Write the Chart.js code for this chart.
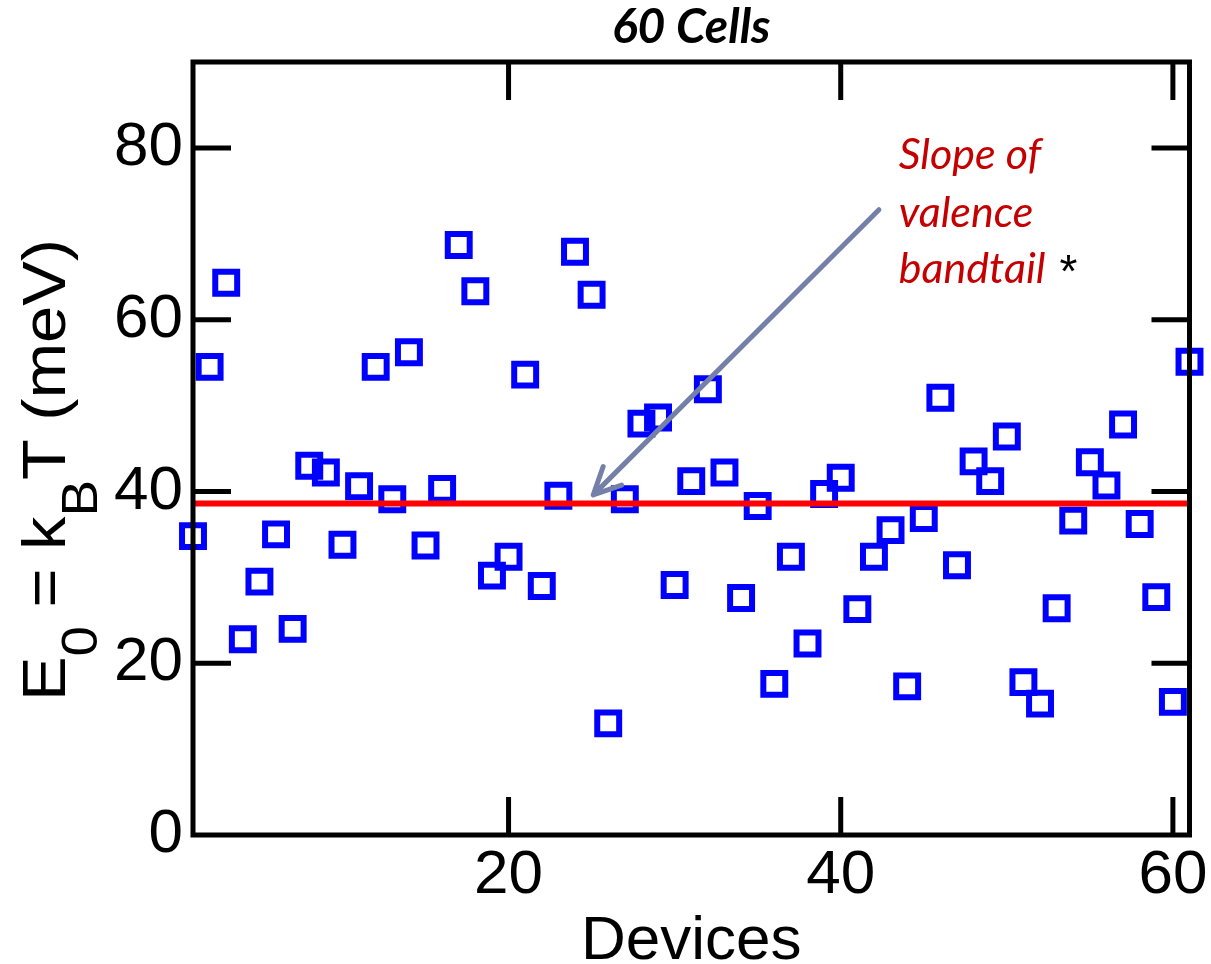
<!DOCTYPE html>
<html>
<head>
<meta charset="utf-8">
<script src="https://cdn.jsdelivr.net/npm/chart.js@4.4.0/dist/chart.umd.min.js"></script>
<style>
  body { margin: 0; background: #fff; }
  #wrap { width: 1211px; height: 964px; }
</style>
</head>
<body>
<div id="wrap"><canvas id="e0Chart"></canvas></div>
<script>
// device number and E0 (meV)
const devices = [1,2,3,4,5,6,7,8,9,10,11,12,13,14,15,16,17,18,19,20,
  21,22,23,24,25,26,27,28,29,30,31,32,33,34,35,36,37,38,39,40,
  41,42,43,44,45,46,47,48,49,50,51,52,53,54,55,56,57,58,59,60,61];
const e0Values = [34.8,54.5,64.3,22.8,29.5,35.0,24.0,43.0,42.2,33.8,
  40.6,54.5,39.1,56.2,33.7,40.3,68.7,63.3,30.2,32.4,
  53.6,29.0,39.5,67.9,62.9,13.0,39.1,47.9,48.6,29.1,
  41.2,51.9,42.2,27.6,38.3,17.6,32.4,22.3,39.7,41.6,
  26.3,32.4,35.5,17.3,36.9,50.9,31.4,43.5,41.2,46.4,
  17.8,15.3,26.4,36.6,43.4,40.7,47.8,36.2,27.7,15.5,55.1];
const bandtailSlope = 38.6;
const xTicks = [20, 40, 60];
const yTicks = [0, 20, 40, 60, 80];
const noteLines = ['Slope of', 'valence', 'bandtail'];

const points = devices.map((d, i) => ({x: d, y: e0Values[i]}));

const framePlugin = {
  id: 'frame',
  afterDatasetsDraw(chart) {
    const {ctx, chartArea: a, scales: {x, y}} = chart;
    ctx.save();
    ctx.strokeStyle = '#000';
    ctx.lineWidth = 5;
    ctx.lineCap = 'butt';
    ctx.strokeRect(a.left, a.top, a.right - a.left, a.bottom - a.top);
    const tl = 38;
    ctx.beginPath();
    xTicks.forEach(v => {
      const px = x.getPixelForValue(v);
      ctx.moveTo(px, a.bottom); ctx.lineTo(px, a.bottom - tl);
      ctx.moveTo(px, a.top); ctx.lineTo(px, a.top + tl);
    });
    yTicks.forEach(v => {
      if (v === 0) return;
      const py = y.getPixelForValue(v);
      ctx.moveTo(a.left, py); ctx.lineTo(a.left + tl, py);
      ctx.moveTo(a.right, py); ctx.lineTo(a.right - tl, py);
    });
    ctx.stroke();
    ctx.restore();
  },
  afterDraw(chart) {
    const {ctx, chartArea: a, scales: {x, y}} = chart;
    ctx.save();
    // title
    ctx.fillStyle = '#000';
    ctx.font = 'italic bold 48px Lato';
    ctx.textAlign = 'center';
    ctx.textBaseline = 'alphabetic';
    ctx.fillText('60 Cells', (a.left + a.right) / 2, 43);

    // x title
    ctx.font = '62px "Liberation Sans", Arial, sans-serif';
    ctx.fillText('Devices', (a.left + a.right) / 2, 959);

    // y title with subscripts
    const parts = [
      ['E', false], ['0', true], [' = k', false], ['B', true], ['T (meV)', false]
    ];
    const mainF = '61px "Liberation Sans", Arial, sans-serif';
    const subF = '50px "Liberation Sans", Arial, sans-serif';
    let total = 0;
    parts.forEach(p => { ctx.font = p[1] ? subF : mainF; total += ctx.measureText(p[0]).width; });
    const stretch = 462 / total;
    ctx.translate(65, 470);
    ctx.rotate(-Math.PI / 2);
    ctx.scale(stretch, 1);
    ctx.textAlign = 'left';
    let cx = -total / 2;
    parts.forEach(p => {
      ctx.font = p[1] ? subF : mainF;
      ctx.fillText(p[0], cx, p[1] ? 32 : 0);
      cx += ctx.measureText(p[0]).width;
    });
    ctx.setTransform(1, 0, 0, 1, 0, 0);

    // annotation text
    ctx.textAlign = 'left';
    ctx.fillStyle = '#c40000';
    ctx.font = 'italic 43px Lato';
    const tx = x.getPixelForValue(43.5);
    const baseVals = [77.6, 70.8, 64.3];
    noteLines.forEach((t, i) => ctx.fillText(t, tx, y.getPixelForValue(baseVals[i])));
    const w = ctx.measureText(noteLines[2]).width;
    ctx.fillStyle = '#000';
    ctx.font = '46px "Liberation Sans", Arial, sans-serif';
    ctx.fillText('*', tx + w + 14, y.getPixelForValue(64.3) + 4);

    // arrow
    const x0 = x.getPixelForValue(42.3), y0 = y.getPixelForValue(72.8);
    const x1 = x.getPixelForValue(25.1), y1 = y.getPixelForValue(39.6);
    ctx.strokeStyle = '#7580a8';
    ctx.lineWidth = 5;
    ctx.lineCap = 'round';
    ctx.lineJoin = 'round';
    ctx.beginPath();
    ctx.moveTo(x0, y0); ctx.lineTo(x1, y1);
    const ang = Math.atan2(y0 - y1, x0 - x1);
    const hl = 30, spread = 0.45;
    ctx.moveTo(x1 + hl * Math.cos(ang - spread), y1 + hl * Math.sin(ang - spread));
    ctx.lineTo(x1, y1);
    ctx.lineTo(x1 + hl * Math.cos(ang + spread), y1 + hl * Math.sin(ang + spread));
    ctx.stroke();
    ctx.restore();
  }
};

const tickFont = {family: '"Liberation Sans", Arial, sans-serif', size: 62};

new Chart(document.getElementById('e0Chart'), {
  type: 'scatter',
  data: {
    datasets: [
      {
        type: 'line',
        label: 'slope',
        data: [{x: devices[0], y: bandtailSlope}, {x: devices[devices.length - 1], y: bandtailSlope}],
        borderColor: '#ff0000',
        borderWidth: 6,
        pointRadius: 0,
        fill: false
      },
      {
        label: 'E0',
        data: points,
        pointStyle: 'rect',
        pointRadius: 15.5,
        pointBorderWidth: 6,
        borderColor: '#0000ff',
        backgroundColor: 'rgba(0,0,0,0)',
        clip: false
      }
    ]
  },
  options: {
    responsive: true,
    maintainAspectRatio: false,
    animation: false,
    layout: {padding: {top: 62, right: 17, left: 0, bottom: 0}},
    plugins: {legend: {display: false}, tooltip: {enabled: false}},
    scales: {
      x: {
        type: 'linear',
        min: 1, max: 61,
        grid: {display: false, drawTicks: false},
        border: {display: false},
        afterBuildTicks: s => { s.ticks = xTicks.map(v => ({value: v})); },
        afterFit: s => { s.height = 129; s.paddingLeft = 0; s.paddingRight = 0; },
        ticks: {color: '#000', font: tickFont, padding: 4, maxRotation: 0}
      },
      y: {
        min: 0, max: 90,
        grid: {display: false, drawTicks: false},
        border: {display: false},
        afterBuildTicks: s => { s.ticks = yTicks.map(v => ({value: v})); },
        afterFit: s => { s.width = 193; s.paddingTop = 0; s.paddingBottom = 0; },
        ticks: {color: '#000', font: tickFont, padding: 10}
      }
    }
  },
  plugins: [framePlugin]
});
</script>
</body>
</html>
